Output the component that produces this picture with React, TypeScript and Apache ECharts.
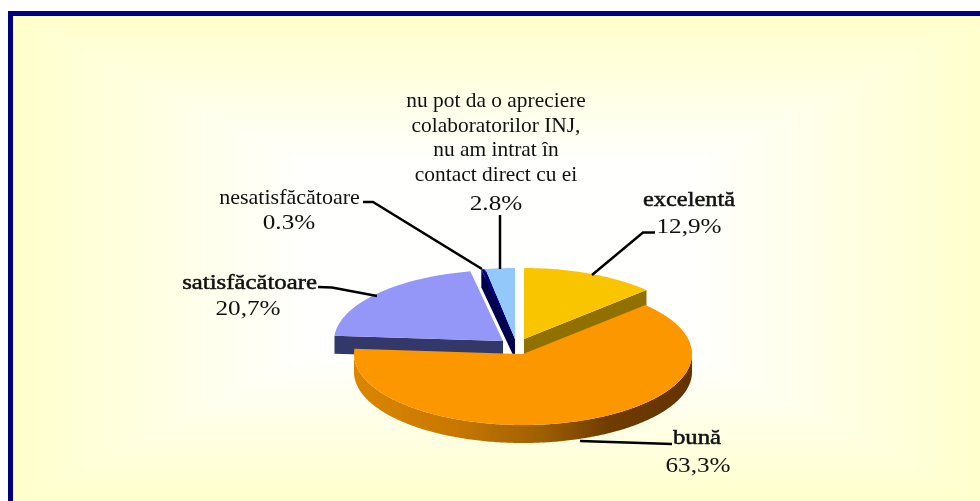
import React, { useEffect, useRef } from "react";
import * as echarts from "echarts";

// ---- data ----
const categories = [
  "excelentă",
  "bună",
  "satisfăcătoare",
  "nesatisfăcătoare",
  "nu pot da o apreciere\ncolaboratorilor INJ,\nnu am intrat în\ncontact direct cu ei",
];
const values = [12.9, 63.3, 20.7, 0.3, 2.8];
const valueLabels = ["12,9%", "63,3%", "20,7%", "0.3%", "2.8%"];

// ---- layout and style ----
const W = 980;
const H = 501;
const RX = 169;
const RY = 71;
const DEPTH = 18;
const drawOrder = [4, 3, 2, 0, 1];
const sliceCentres = [
  [524, 339],
  [523, 354],
  [503, 341],
  [514, 339],
  [515, 339],
];
const topColours = ["#F9C500", "#FC9700", "#9497F7", "#000080", "#93C8FA"];
const sideColours = ["#8F7000", "#A86400", "#33386A", "#00004D", "#00006B"];
const leaders = [
  [[592, 275], [643, 232.5], [655, 232.5]],
  [[580, 441], [672, 444]],
  [[318, 287], [332, 287.5], [377, 296]],
  [[363, 202], [373, 202], [482, 269]],
  [[500, 215], [500, 269]],
];
const nameLayout = [
  { x: 689, y: 199, sx: 1.16, heavy: true, lh: 24 },
  { x: 697, y: 437, sx: 1.18, heavy: true, lh: 24 },
  { x: 249.5, y: 282, sx: 1.18, heavy: true, lh: 24 },
  { x: 289.5, y: 197, sx: 1.05, heavy: false, lh: 24 },
  { x: 496, y: 137, sx: 1.02, heavy: false, lh: 24.7 },
];
const valueLayout = [
  { x: 689, y: 226, sx: 1.2 },
  { x: 698, y: 465, sx: 1.2 },
  { x: 248, y: 308, sx: 1.2 },
  { x: 289, y: 222, sx: 1.2 },
  { x: 496, y: 203, sx: 1.2 },
];
const FONT_SIZE = 21;
const FONT_FAMILY = '"Liberation Serif", serif';

const total = values.reduce((a, b) => a + b, 0);
const startAngles: number[] = [];
values.reduce((acc, v, i) => {
  startAngles[i] = (acc / total) * Math.PI * 2;
  return acc + v;
}, 0);

function rim(c: number[], a: number, dy = 0): number[] {
  return [c[0] + RX * Math.sin(a), c[1] - RY * Math.cos(a) + dy];
}

function arcPoints(c: number[], a0: number, a1: number, dy = 0): number[][] {
  const n = Math.max(2, Math.ceil(Math.abs(a1 - a0) / (Math.PI / 240)));
  const pts: number[][] = [];
  for (let i = 0; i <= n; i++) pts.push(rim(c, a0 + ((a1 - a0) * i) / n, dy));
  return pts;
}

function face(c: number[], a: number, fill: string) {
  const p = rim(c, a);
  return {
    type: "polygon",
    shape: { points: [c, p, [p[0], p[1] + DEPTH], [c[0], c[1] + DEPTH]] },
    style: { fill },
  };
}

function sideFill(i: number) {
  if (i !== 1) return sideColours[i];
  return new echarts.graphic.LinearGradient(0, 0, 1, 0, [
    { offset: 0, color: "#DC8500" },
    { offset: 0.3, color: "#C87800" },
    { offset: 0.55, color: "#A06000" },
    { offset: 0.75, color: "#703C00" },
    { offset: 1, color: "#633200" },
  ]);
}

function textEl(text: string, x: number, y: number, sx: number, heavy: boolean, lh: number) {
  return {
    type: "text",
    x,
    y,
    scaleX: sx,
    style: {
      text,
      fill: "#111",
      stroke: heavy ? "#111" : "transparent",
      lineWidth: heavy ? 0.5 : 0,
      font: `${FONT_SIZE}px ${FONT_FAMILY}`,
      lineHeight: lh,
      align: "center",
      verticalAlign: "middle",
      textAlign: "center",
      textVerticalAlign: "middle",
    },
  };
}

function renderItem(_params: any, api: any) {
  const i = api.value(0) as number;
  const a0 = startAngles[i];
  const a1 = a0 + (values[i] / total) * Math.PI * 2;
  const c = sliceCentres[i];
  const children: any[] = [];

  // outer wall, only where the rim faces the viewer
  const w0 = Math.max(a0, Math.PI / 2);
  const w1 = Math.min(a1, (Math.PI * 3) / 2);
  if (w1 > w0) {
    children.push({
      type: "polygon",
      shape: {
        points: [...arcPoints(c, w0, w1), ...arcPoints(c, w1, w0, DEPTH)],
      },
      style: { fill: sideFill(i) },
    });
  }
  // cut faces
  if (a1 < Math.PI) children.push(face(c, a1, sideColours[i]));
  if (a0 > Math.PI) children.push(face(c, a0, sideColours[i]));
  // top surface
  children.push({
    type: "polygon",
    shape: { points: [c, ...arcPoints(c, a0, a1)] },
    style: { fill: topColours[i] },
  });
  // leader line
  children.push({
    type: "polyline",
    shape: { points: leaders[i] },
    style: { stroke: "#000", lineWidth: 2.5, fill: "none" },
  });
  // labels
  const n = nameLayout[i];
  const v = valueLayout[i];
  children.push(textEl(categories[i], n.x, n.y, n.sx, n.heavy, n.lh));
  children.push(textEl(valueLabels[i], v.x, v.y, v.sx, false, 24));
  return { type: "group", children };
}

function backgroundRects() {
  // rectangular "path" gradient, pale yellow at the frame to white at the middle
  const left = 13;
  const top = 16;
  const cx = 500;
  const cy = 260;
  const hw = cx - left;
  const hh = cy - top;
  const steps = 48;
  const out: any[] = [];
  for (let s = 0; s < steps; s++) {
    const t = s / steps;
    const f = 1 - t * 0.62;
    const blue = Math.round(204 + (255 - 204) * Math.min(1, t));
    out.push({
      type: "rect",
      z: -10 + s * 0.01,
      shape: { x: cx - hw * f, y: cy - hh * f, width: 2 * hw * f, height: 2 * hh * f },
      style: { fill: `rgb(255,255,${blue})` },
      silent: true,
    });
  }
  out.push({
    type: "rect",
    z: -1,
    shape: { x: 10.5, y: 13.5, width: 1100, height: 900 },
    style: { fill: "none", stroke: "#000080", lineWidth: 5 },
    silent: true,
  });
  return out;
}

export default function App() {
  const ref = useRef<HTMLDivElement>(null);
  useEffect(() => {
    document.body.style.margin = "0";
    const chart = echarts.init(ref.current!, null, { renderer: "svg" });
    chart.setOption({
      animation: false,
      backgroundColor: "#fff",
      graphic: { elements: backgroundRects() },
      series: [
        {
          type: "custom",
          coordinateSystem: "none",
          silent: true,
          clip: false,
          data: drawOrder.map((i) => [i]),
          renderItem,
        },
      ],
    });
    return () => chart.dispose();
  }, []);
  return <div ref={ref} style={{ width: W, height: H, overflow: "hidden", filter: "blur(0.4px)" }} />;
}
